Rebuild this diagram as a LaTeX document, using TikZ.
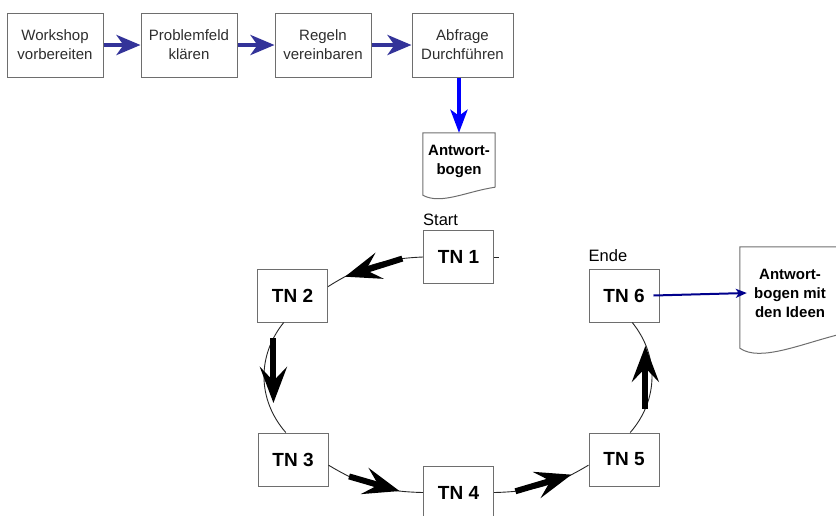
\documentclass[tikz,border=0pt]{standalone}
\usepackage{fontspec}
\setmainfont{Liberation Sans}
\usetikzlibrary{arrows.meta}
\definecolor{flowblue}{RGB}{51,51,153}
\definecolor{boxgray}{RGB}{110,110,110}
\definecolor{textgray}{RGB}{45,45,45}
\begin{document}
\begin{tikzpicture}[x=1pt,y=1pt,
  stepbox/.style={draw=boxgray,line width=1pt,minimum width=96pt,minimum height=64pt,
    inner sep=0pt,align=center,text=textgray,font=\fontsize{15}{19}\selectfont},
  tnbox/.style={draw=boxgray,line width=1pt,minimum width=70pt,minimum height=53pt,
    font=\bfseries\fontsize{19}{22}\selectfont},
  doctext/.style={inner sep=0pt,align=center,font=\bfseries\fontsize{15}{19}\selectfont},
  docline/.style={draw=boxgray,line width=1pt},
  tag/.style={anchor=base west,inner sep=0pt,font=\fontsize{16.5}{19}\selectfont},
  flow/.style={flowblue,line width=4.5pt,-{Stealth[length=24pt,width=20pt,inset=7pt]}},
  down/.style={blue,line width=4.5pt,-{Stealth[length=23pt,width=17pt,inset=6pt]}},
  result/.style={blue!55!black,line width=2pt,-{Stealth[length=11pt,width=9pt,inset=3pt]}},
  ring/.style={black!85,line width=0.9pt},
  bigarrow/.style={line width=6pt,-{Stealth[length=36pt,width=27pt,inset=14pt]}}]
\useasboundingbox (0,0) rectangle (836,-515);

% preparation
\node[stepbox] (workshop) at (55,-45) {Workshop\\vorbereiten};
\node[stepbox] (problem) at (189,-45) {Problemfeld\\klären};
\node[stepbox] (regeln) at (323,-45) {Regeln\\vereinbaren};
\node[stepbox,minimum width=101pt] (abfrage) at (462.5,-45) {Abfrage\\Durchführen};
\draw[flow] (workshop) -- (problem);
\draw[flow] (problem) -- (regeln);
\draw[flow] (regeln) -- (abfrage);

% answer sheet
\node[doctext,minimum width=72pt,minimum height=56pt] (antwort) at (459,-161) {Antwort-\\bogen};
\draw[docline] ([yshift=2pt]antwort.south east) -- (antwort.north east) -- (antwort.north west)
  -- ([yshift=-6pt]antwort.south west) .. controls +(18,-10) and +(-28,-4) .. ([yshift=2pt]antwort.south east);
\draw[down] (abfrage.south -| antwort.north) -- (antwort.north);

% participants
\node[tnbox] (tn1) at (458.5,-257) {TN 1};
\node[tnbox] (tn2) at (292.5,-295.5) {TN 2};
\node[tnbox] (tn3) at (293,-459.5) {TN 3};
\node[tnbox] (tn4) at (458.5,-492.5) {TN 4};
\node[tnbox] (tn5) at (624,-459.5) {TN 5};
\node[tnbox] (tn6) at (624,-295.5) {TN 6};
\node[tag] (start) at ([yshift=5pt]tn1.north west) {Start};
\node[tag] (ende) at ([yshift=7pt]tn6.north west) {Ende};

% passing the sheet on
\draw[ring] (tn1.west) to[bend right=15] coordinate[pos=0.19] (a1) coordinate[pos=0.82] (b1) (tn2.14);
\draw[ring] (tn2.252) to[bend right=40] coordinate[pos=0.15] (a2) coordinate[pos=0.72] (b2) (tn3.105);
\draw[ring] (tn3.-9) to[bend right=15] coordinate[pos=0.22] (a3) coordinate[pos=0.78] (b3) (tn4.west);
\draw[ring] (tn4.east) to[bend right=15] coordinate[pos=0.2] (a4) coordinate[pos=0.82] (b4) (tn5.189);
\draw[ring] (tn5.77) to[bend right=40] coordinate[pos=0.23] (a5) coordinate[pos=0.78] (b5) (tn6.-73);
\draw[ring] (tn1.east) -- ++(5,0);
\foreach \i in {1,3,4} \draw[bigarrow] (a\i) -- (b\i);
\foreach \i in {2,5} \draw[bigarrow] (a\i) -- (a\i |- b\i);

% result
\node[doctext,minimum width=100pt,minimum height=92pt] (ideen) at (790,-293) {Antwort-\\bogen mit\\den Ideen};
\draw[docline] ([yshift=5pt]ideen.south east) -- (ideen.north east) -- (ideen.north west)
  -- ([yshift=-9pt]ideen.south west) .. controls +(20,-14) and +(-40,-10) .. ([yshift=5pt]ideen.south east);
\draw[result] ([xshift=-6pt]tn6.east) -- ([xshift=7pt]ideen.west);
\end{tikzpicture}
\end{document}
